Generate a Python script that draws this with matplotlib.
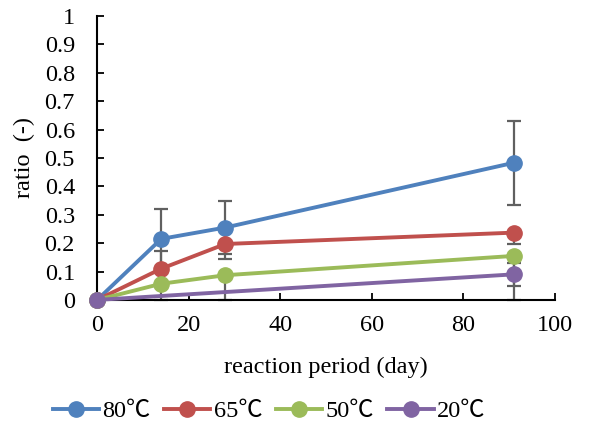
import matplotlib
matplotlib.use("Agg")
import matplotlib.pyplot as plt

plt.rcParams['font.family'] = ['Liberation Serif', 'Noto Sans CJK JP', 'DejaVu Sans']

days = [0, 14, 28, 91]
days_20 = [0, 91]

r80 = [0.0, 0.215, 0.255, 0.483]
r65 = [0.0, 0.110, 0.197, 0.237]
r50 = [0.0, 0.057, 0.087, 0.155]
r20 = [0.0, 0.090]

e80_lo = [0.0, 0.105, 0.095, 0.147]
e80_hi = [0.0, 0.105, 0.095, 0.147]
e65_lo = [0.0, 0.063, 0.052, 0.040]
e65_hi = [0.0, 0.063, 0.052, 0.0]
e50_lo = [0.0, 0.057, 0.087, 0.155]
e50_hi = [0.0, 0.0, 0.0, 0.0]
e20_lo = [0.0, 0.041]
e20_hi = [0.0, 0.041]

labels = ['80℃', '65℃', '50℃', '20℃']
colors = ['#4F81BD', '#C0504D', '#9BBB59', '#8064A2']

fig = plt.figure(figsize=(5.89, 4.23), dpi=100)
ax = fig.add_axes([0.165, 0.291, 0.777, 0.671])

series = [(days, r80, e80_lo, e80_hi), (days, r65, e65_lo, e65_hi),
          (days, r50, e50_lo, e50_hi), (days_20, r20, e20_lo, e20_hi)]

for (x, y, lo, hi) in series:
    ax.errorbar(x, y, yerr=[lo, hi], fmt='none', ecolor='#606060',
                elinewidth=1.6, capsize=5, capthick=1.6, zorder=1, clip_on=False)

for (x, y, lo, hi), lab, c in zip(series, labels, colors):
    ax.plot(x, y, '-o', color=c, lw=2.8, ms=11, label=lab, zorder=3, clip_on=False)

ax.set_xlim(0, 100)
ax.set_ylim(0, 1)
ax.set_xticks([0, 20, 40, 60, 80, 100])
ax.set_yticks([0, 0.1, 0.2, 0.3, 0.4, 0.5, 0.6, 0.7, 0.8, 0.9, 1])
ax.set_yticklabels(['0', '0.1', '0.2', '0.3', '0.4', '0.5', '0.6', '0.7', '0.8', '0.9', '1'])
ax.spines['top'].set_visible(False)
ax.spines['right'].set_visible(False)
for s in ['left', 'bottom']:
    ax.spines[s].set_linewidth(1.5)
    ax.spines[s].set_zorder(2)
ax.tick_params(axis='both', direction='in', length=5, width=1.3, labelsize=17.5)
ax.tick_params(axis='y', pad=16)
ax.tick_params(axis='x', pad=11)

ax.set_xlabel('reaction period (day)', fontsize=17.5)
ax.set_ylabel('ratio  (-)', fontsize=17.5)
ax.xaxis.set_label_coords(0.5, -0.2)
ax.yaxis.set_label_coords(-0.135, 0.5)

fig.legend(loc='center', bbox_to_anchor=(0.457, 0.028), ncol=4, frameon=False,
           fontsize=17.5, handlelength=1.9, handletextpad=0.15, columnspacing=0.55)

fig.savefig('out.png', dpi=100)
